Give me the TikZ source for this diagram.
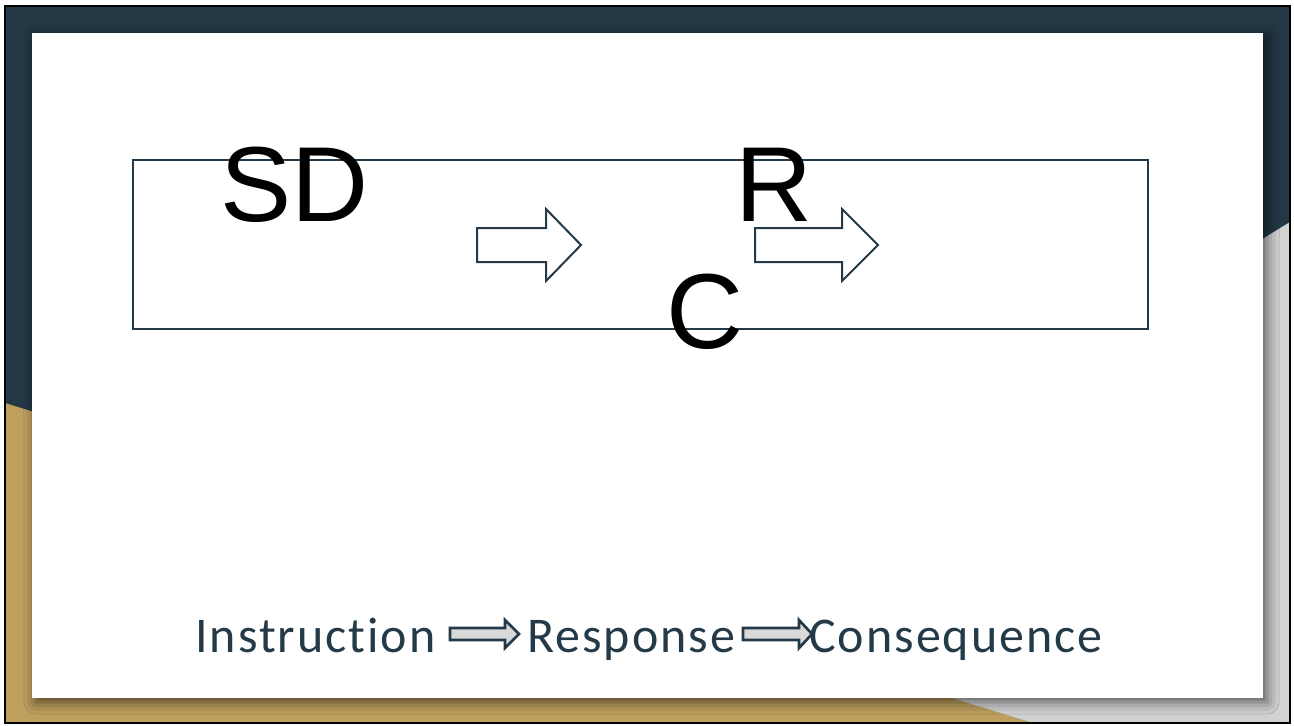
\documentclass[tikz,border=0pt]{standalone}
\usepackage{fontspec}
\setmainfont{Liberation Sans}
\newfontfamily\captionfont[Ligatures=NoCommon, LetterSpace=4]{Carlito}
\usetikzlibrary{shadows.blur}

\definecolor{frameNavy}{HTML}{233845}
\definecolor{frameGold}{HTML}{BF9F5E}
\definecolor{frameGray}{HTML}{D2D2D2}
\definecolor{ink}{HTML}{243A48}
\definecolor{arrowFill}{HTML}{D9D9D9}

\tikzset{
  bigletter/.style={font=\fontsize{80}{96}\selectfont, text=black, inner sep=0pt, anchor=base west},
  caption/.style={font=\captionfont\fontsize{37.5}{45}\selectfont, text=ink, inner sep=0pt, anchor=base west},
  framebox/.style={draw=ink, line width=1.5pt},
  openarrow/.style={draw=ink, line width=1.5pt, fill=white, line join=miter},
  greyarrow/.style={draw=ink, line width=2pt, fill=arrowFill, line join=miter},
}

\begin{document}
\begin{tikzpicture}[x=0.75pt, y=-0.75pt]
  \useasboundingbox (0,0) rectangle (1294,725);
  \fill[white] (0,0) rectangle (1294,725);

  % slide background panels
  \fill[frameNavy] (5,6) rectangle (1290,723);
  \fill[frameGold] (5,403) -- (1033,723) -- (5,723) -- cycle;
  \fill[frameGray] (663,609) -- (1290,222) -- (1290,723) -- (1033,723) -- cycle;
  \draw[black, line width=1.5pt] (5,6) rectangle (1290,723);

  % white content card
  \fill[white, blur shadow={shadow xshift=3pt, shadow yshift=-3pt,
        shadow blur radius=9pt, shadow opacity=60}]
    (32,33) rectangle (1263,698);

  % outlined frame around the three-term contingency
  \draw[framebox] (133,160) rectangle (1148,329);

  % large letters
  \node[bigletter] (sd) at (220,221) {SD};
  \node[bigletter] (r)  at (735,221) {R};
  \node[bigletter] (c)  at (666,348) {C};

  % block arrows inside the frame
  \draw[openarrow] (477,228) -- (546,228) -- (546,209) -- (581,245)
    -- (546,281) -- (546,262) -- (477,262) -- cycle;
  \draw[openarrow] (755,228) -- (842,228) -- (842,209) -- (878,245)
    -- (842,281) -- (842,262) -- (755,262) -- cycle;

  % caption line
  \node[caption] (instr) at (195,652) {Instruction};
  \node[caption] (resp)  at (527,652) {Response};
  \node[caption] (cons)  at (809,652) {Consequence};

  \draw[greyarrow] (450,628) -- (505,628) -- (505,620) -- (519,634)
    -- (505,648) -- (505,640) -- (450,640) -- cycle;
  \draw[greyarrow] (743,628) -- (799,628) -- (799,620) -- (812,634)
    -- (799,648) -- (799,640) -- (743,640) -- cycle;
\end{tikzpicture}
\end{document}
